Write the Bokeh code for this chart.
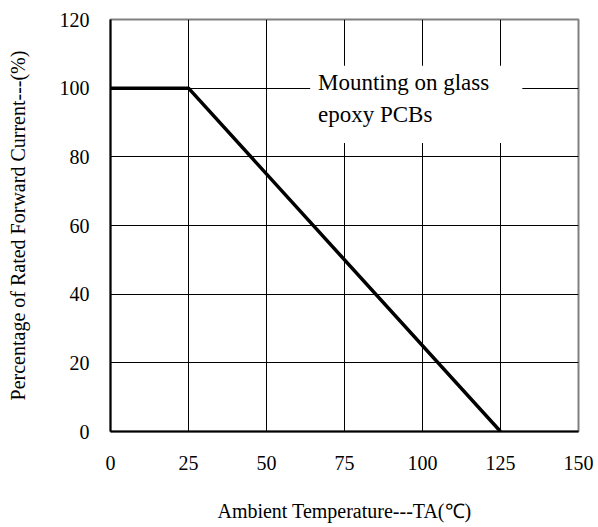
from bokeh.plotting import figure
from bokeh.embed import file_html
from bokeh.resources import INLINE
from bokeh.models import BoxAnnotation, Label, FixedTicker, Range1d

temp = [0, 25, 125]
pct = [100, 100, 0]
x_ticks = [0, 25, 50, 75, 100, 125, 150]
y_ticks = [0, 20, 40, 60, 80, 100, 120]
note_lines = ["Mounting on glass", "epoxy PCBs"]

FONT = "Liberation Serif"

p = figure(width=598, height=527, output_backend="svg", toolbar_location=None,
           x_range=Range1d(0, 150), y_range=Range1d(0, 120),
           min_border_left=110, min_border_right=20, min_border_top=19, min_border_bottom=96)
p.outline_line_color = "#808080"
p.outline_line_width = 2

for ax in (p.xaxis, p.yaxis):
    ax.major_tick_line_color = None
    ax.minor_tick_line_color = None
    ax.axis_line_color = "black"
    ax.axis_line_width = 2
    ax.major_label_text_font = FONT
    ax.major_label_text_font_size = "20px"
    ax.major_label_text_color = "black"
    ax.axis_label_text_font = FONT
    ax.axis_label_text_font_size = "20px"
    ax.axis_label_text_font_style = "normal"
    ax.axis_label_text_color = "black"

p.xaxis.ticker = FixedTicker(ticks=x_ticks)
p.yaxis.ticker = FixedTicker(ticks=y_ticks)
p.xaxis.major_label_standoff = 18
p.yaxis.major_label_standoff = 15
p.xaxis.axis_label = "Ambient Temperature---TA(\u2103)"
p.yaxis.axis_label = "Percentage of Rated Forward Current---(%)"
p.xaxis.axis_label_standoff = 27
p.yaxis.axis_label_standoff = 28

p.xgrid.ticker = FixedTicker(ticks=x_ticks)
p.ygrid.ticker = FixedTicker(ticks=y_ticks)
for g in (p.xgrid, p.ygrid):
    g.grid_line_color = "black"
    g.grid_line_width = 1

p.add_layout(BoxAnnotation(left=64, right=132, bottom=84, top=106.5,
                           fill_color="white", fill_alpha=1, line_color=None))

p.line(temp, pct, line_color="black", line_width=3.5)

p.add_layout(Label(x=66.5, y=101.6, text=note_lines[0], text_font=FONT,
                   text_font_size="23px", text_color="black", text_baseline="alphabetic"))
p.add_layout(Label(x=66.5, y=92.2, text=note_lines[1], text_font=FONT,
                   text_font_size="23px", text_color="black", text_baseline="alphabetic"))

open("out.html", "w").write(file_html(p, INLINE))
